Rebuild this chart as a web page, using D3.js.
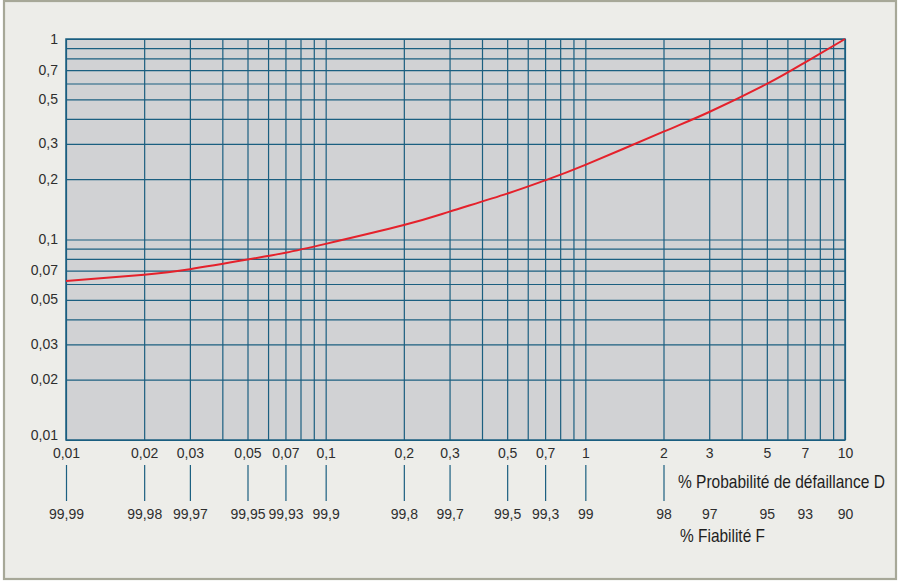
<!DOCTYPE html>
<html>
<head>
<meta charset="utf-8">
<script src="https://cdn.jsdelivr.net/npm/d3@7"></script>
<style>
  html, body { margin: 0; padding: 0; background: #ffffff; }
  svg { display: block; }
</style>
</head>
<body>
<svg id="chart" width="898" height="582"></svg>
<script>
// ---- data ----
const dTicks  = [0.01, 0.02, 0.03, 0.05, 0.07, 0.1, 0.2, 0.3, 0.5, 0.7, 1, 2, 3, 5, 7, 10];
const dLabels = ["0,01","0,02","0,03","0,05","0,07","0,1","0,2","0,3","0,5","0,7","1","2","3","5","7","10"];
const fLabels = ["99,99","99,98","99,97","99,95","99,93","99,9","99,8","99,7","99,5","99,3","99","98","97","95","93","90"];
const markTicks = [0.01, 0.02, 0.03, 0.05, 0.07, 0.1, 0.2, 0.3, 0.5, 0.7, 1, 2];
const yTicks  = [0.01, 0.02, 0.03, 0.05, 0.07, 0.1, 0.2, 0.3, 0.5, 0.7, 1];
const yLabels = ["0,01","0,02","0,03","0,05","0,07","0,1","0,2","0,3","0,5","0,7","1"];
const curveD  = [0.01, 0.02, 0.03, 0.05, 0.07, 0.1, 0.2, 0.3, 0.5, 0.7, 1, 2, 3, 5, 7, 10];
const curveV  = [0.0621, 0.0668, 0.0711, 0.0794, 0.0859, 0.0951, 0.118, 0.1377, 0.1694, 0.1972, 0.2355, 0.345, 0.4325, 0.597, 0.763, 1.0];
const titleD = "% Probabilité de défaillance D";
const titleF = "% Fiabilité F";

// ---- layout ----
const L = 66, R = 845, T = 39, B = 440;
const teal = "#1b5f80";
const textColor = "#2e2e2e";
const font = "'Liberation Sans', Arial, sans-serif";

const svg = d3.select("#chart");

// frame
svg.append("rect").attr("x", 4).attr("y", 1).attr("width", 892).attr("height", 578)
  .attr("fill", "#ededE9").attr("stroke", "#a7a898").attr("stroke-width", 2.2);

const x = d3.scaleLog().domain([0.01, 10]).range([L, R]);
const y = d3.scaleLog().domain([0.01, 1]).range([B, T]);

// plot background
svg.append("rect").attr("x", L).attr("y", T).attr("width", R - L).attr("height", B - T)
  .attr("fill", "#d1d2d4");

// grid values
const xGrid = [];
for (let e = -2; e <= 0; e++) for (let m = 1; m <= 9; m++) xGrid.push(m * Math.pow(10, e));
xGrid.push(10);
const yGrid = [];
for (let e = -2; e <= -1; e++) for (let m = 1; m <= 9; m++) yGrid.push(m * Math.pow(10, e));
yGrid.push(1);

const gx = svg.append("g").attr("transform", `translate(0,${B})`)
  .call(d3.axisBottom(x).tickValues(xGrid).tickSize(-(B - T)).tickFormat(""));
gx.select(".domain").remove();
gx.selectAll(".tick line").attr("stroke", teal).attr("stroke-width", 1.2);

const gy = svg.append("g").attr("transform", `translate(${L},0)`)
  .call(d3.axisLeft(y).tickValues(yGrid).tickSize(-(R - L)).tickFormat(""));
gy.select(".domain").remove();
gy.selectAll(".tick line").attr("stroke", teal).attr("stroke-width", 1.2);

// plot border
svg.append("rect").attr("x", L).attr("y", T).attr("width", R - L).attr("height", B - T)
  .attr("fill", "none").attr("stroke", teal).attr("stroke-width", 1.5);

// curve
const line = d3.line().x((d, i) => x(curveD[i])).y(d => y(d)).curve(d3.curveNatural);
svg.append("path").datum(curveV).attr("d", line)
  .attr("fill", "none").attr("stroke", "#e5212b").attr("stroke-width", 2);

// y labels
const yl = svg.append("g").attr("transform", `translate(${L},0)`)
  .call(d3.axisLeft(y).tickValues(yTicks).tickSize(0).tickPadding(8)
    .tickFormat((d, i) => yLabels[i]));
yl.select(".domain").remove();
yl.selectAll(".tick text")
  .attr("font-family", font).attr("font-size", 14).attr("fill", textColor)
  .attr("dy", null).attr("x", -8)
  .attr("y", d => Math.min(4, 439 - y(d)));

// x labels (D)
const xl = svg.append("g").attr("transform", `translate(0,${B})`)
  .call(d3.axisBottom(x).tickValues(dTicks).tickSize(0)
    .tickFormat((d, i) => dLabels[i]));
xl.select(".domain").remove();
xl.selectAll(".tick text")
  .attr("font-family", font).attr("font-size", 14).attr("fill", textColor)
  .attr("dy", null).attr("y", 18);

// tick marks between rows
const tm = svg.append("g").attr("transform", `translate(0,501)`)
  .call(d3.axisBottom(x).tickValues(markTicks).tickSize(-36).tickFormat(""));
tm.select(".domain").remove();
tm.selectAll(".tick line").attr("stroke", teal).attr("stroke-width", 1.2);

// F labels
const fl = svg.append("g").attr("transform", `translate(0,501)`)
  .call(d3.axisBottom(x).tickValues(dTicks).tickSize(0)
    .tickFormat((d, i) => fLabels[i]));
fl.select(".domain").remove();
fl.selectAll(".tick text")
  .attr("font-family", font).attr("font-size", 14).attr("fill", textColor)
  .attr("dy", null).attr("y", 18);

// titles (condensed by horizontal scaling to emulate a narrow face)
function condensedTitle(str, x0, y0, targetW) {
  const t = svg.append("text").attr("x", 0).attr("y", 0)
    .attr("font-family", font).attr("font-size", 18.5).attr("fill", "#1e1e1e")
    .text(str);
  const w = t.node().getComputedTextLength();
  const k = targetW / w;
  t.attr("transform", `translate(${x0},${y0}) scale(${k},1)`);
}
condensedTitle(titleD, 678, 488, 207);
condensedTitle(titleF, 680, 542, 85);
</script>
</body>
</html>
